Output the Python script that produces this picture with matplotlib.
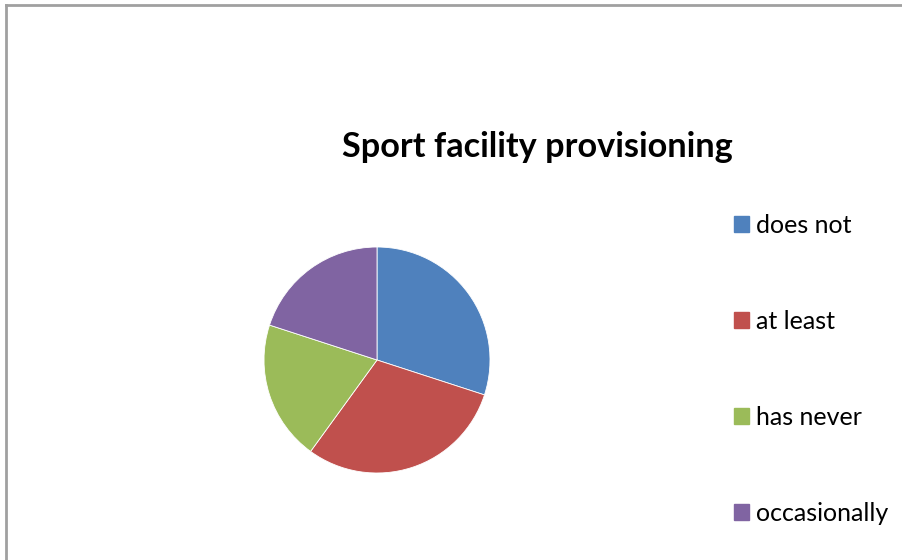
import matplotlib.pyplot as plt
from matplotlib.patches import Rectangle
from matplotlib.lines import Line2D

labels = ['does not', 'at least', 'has never', 'occasionally']
values = [30, 30, 20, 20]
colors = ['#4f81bd', '#c0504d', '#9bbb59', '#8064a2']

W, H = 903, 560
fig = plt.figure(figsize=(W / 100, H / 100), dpi=100)

# work in pixel coordinates, y up
ax = fig.add_axes([0, 0, 1, 1])
ax.set_xlim(0, W)
ax.set_ylim(0, H)
ax.set_aspect('equal')
ax.axis('off')

wedges, _ = ax.pie(values, colors=colors, startangle=90, counterclock=False,
                   center=(377, H - 360), radius=113,
                   wedgeprops=dict(linewidth=0.6, edgecolor='white'))
ax.set_xlim(0, W)
ax.set_ylim(0, H)

# chart frame (only top and left edges visible)
ax.add_line(Line2D([6, W], [H - 5, H - 5], color='#a0a0a0', lw=2))
ax.add_line(Line2D([6, 6], [0, H - 5], color='#a0a0a0', lw=2))

ax.text(537, H - 147, 'Sport facility provisioning', ha='center', va='center',
        fontsize=24.7, fontweight='bold', family='Lato')

handles = [Rectangle((0, 0), 1, 1, color=c) for c in colors]
leg = ax.legend(handles, labels, loc='upper left', bbox_to_anchor=(734, H - 214),
                bbox_transform=ax.transData, frameon=False,
                prop={'family': 'Lato', 'size': 18},
                handlelength=0.6, handleheight=0.6, handletextpad=0.28,
                labelspacing=2.92, borderpad=0, borderaxespad=0)

fig.savefig('out.png', dpi=100)
